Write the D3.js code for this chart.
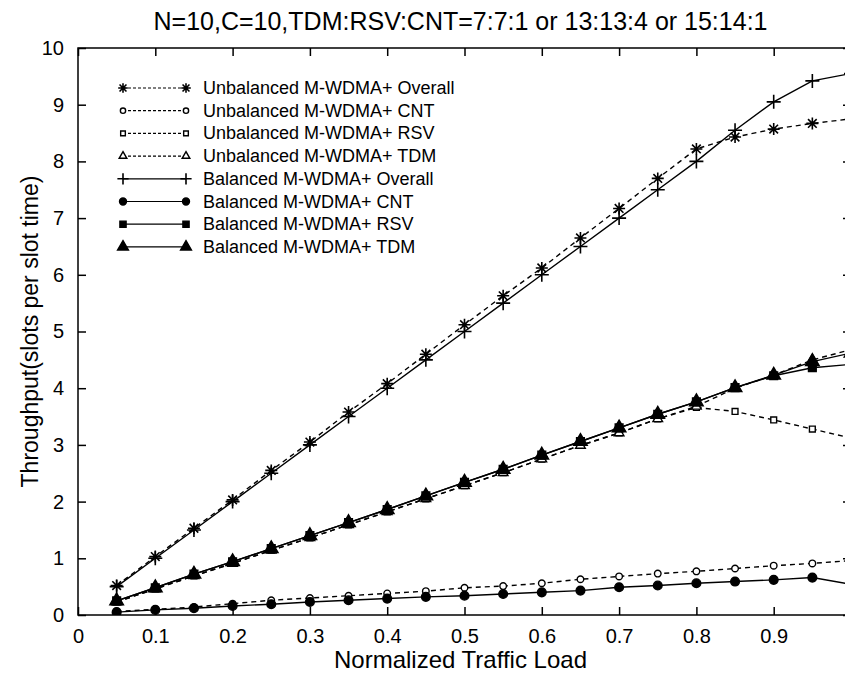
<!DOCTYPE html>
<html>
<head>
<meta charset="utf-8">
<script src="https://cdn.jsdelivr.net/npm/d3@7"></script>
<style>
  body { margin: 0; background: #fff; }
  text { font-family: "Liberation Sans", Arial, sans-serif; fill: #000; }
</style>
</head>
<body>
<svg id="chart" width="845" height="675"></svg>
<script>
// traffic load (x) values
var load = [0.05, 0.1, 0.15, 0.2, 0.25, 0.3, 0.35, 0.4, 0.45, 0.5,
            0.55, 0.6, 0.65, 0.7, 0.75, 0.8, 0.85, 0.9, 0.95, 1.0];

var unbOverall = [0.52, 1.03, 1.53, 2.03, 2.55, 3.05, 3.58, 4.08, 4.6, 5.12,
                  5.63, 6.12, 6.65, 7.17, 7.7, 8.22, 8.43, 8.57, 8.67, 8.75];
var unbCnt = [0.06, 0.1, 0.14, 0.2, 0.26, 0.3, 0.34, 0.38, 0.42, 0.48,
              0.51, 0.56, 0.63, 0.68, 0.73, 0.77, 0.82, 0.87, 0.91, 0.96];
var unbRsv = [0.23, 0.46, 0.69, 0.91, 1.14, 1.36, 1.59, 1.82, 2.05, 2.28,
              2.51, 2.75, 2.99, 3.21, 3.46, 3.66, 3.59, 3.44, 3.28, 3.12];
var unbTdm = [0.23, 0.46, 0.69, 0.91, 1.14, 1.36, 1.59, 1.82, 2.05, 2.28,
              2.51, 2.75, 2.99, 3.21, 3.46, 3.68, 4.0, 4.23, 4.5, 4.68];
var balOverall = [0.5, 1.0, 1.5, 2.0, 2.5, 3.0, 3.5, 4.0, 4.5, 5.0,
                  5.5, 6.0, 6.5, 7.0, 7.5, 8.0, 8.55, 9.05, 9.42, 9.55];
var balCnt = [0.05, 0.09, 0.12, 0.16, 0.19, 0.23, 0.26, 0.29, 0.32, 0.34,
              0.37, 0.4, 0.43, 0.49, 0.52, 0.56, 0.59, 0.62, 0.66, 0.54];
var balRsv = [0.25, 0.48, 0.72, 0.94, 1.17, 1.4, 1.63, 1.86, 2.1, 2.34,
              2.57, 2.82, 3.06, 3.3, 3.54, 3.76, 4.01, 4.22, 4.36, 4.42];
var balTdm = [0.25, 0.48, 0.72, 0.94, 1.17, 1.4, 1.63, 1.86, 2.1, 2.34,
              2.57, 2.82, 3.06, 3.3, 3.54, 3.76, 4.01, 4.23, 4.47, 4.62];

var xTicks = [0, 0.1, 0.2, 0.3, 0.4, 0.5, 0.6, 0.7, 0.8, 0.9, 1];
var xTickLabels = ["0", "0.1", "0.2", "0.3", "0.4", "0.5", "0.6", "0.7", "0.8", "0.9", "1"];
var yTicks = [0, 1, 2, 3, 4, 5, 6, 7, 8, 9, 10];
var yTickLabels = ["0", "1", "2", "3", "4", "5", "6", "7", "8", "9", "10"];

var seriesNames = ["Unbalanced M-WDMA+ Overall", "Unbalanced M-WDMA+ CNT",
                   "Unbalanced M-WDMA+ RSV", "Unbalanced M-WDMA+ TDM",
                   "Balanced M-WDMA+ Overall", "Balanced M-WDMA+ CNT",
                   "Balanced M-WDMA+ RSV", "Balanced M-WDMA+ TDM"];

var TITLE = "N=10,C=10,TDM:RSV:CNT=7:7:1 or 13:13:4 or 15:14:1";
var XLABEL = "Normalized Traffic Load";
var YLABEL = "Throughput(slots per slot time)";

var LEFT = 78, RIGHT = 851, TOP = 48, BOTTOM = 615;
var TICK = 8;

var series = [
    {name: seriesNames[0], values: unbOverall, dashed: true, marker: "star"},
    {name: seriesNames[1], values: unbCnt, dashed: true, marker: "circleOpen"},
    {name: seriesNames[2], values: unbRsv, dashed: true, marker: "squareOpen"},
    {name: seriesNames[3], values: unbTdm, dashed: true, marker: "triOpen"},
    {name: seriesNames[4], values: balOverall, dashed: false, marker: "plus"},
    {name: seriesNames[5], values: balCnt, dashed: false, marker: "circleFill"},
    {name: seriesNames[6], values: balRsv, dashed: false, marker: "squareFill"},
    {name: seriesNames[7], values: balTdm, dashed: false, marker: "triFill"}
];

var svg = d3.select("#chart");
svg.append("rect").attr("width", 845).attr("height", 675).attr("fill", "#fff");

var x = d3.scaleLinear().domain([0, 1]).range([LEFT, RIGHT]);
var y = d3.scaleLinear().domain([0, 10]).range([BOTTOM, TOP]);

// draw a marker of the given kind at (0,0) inside group g
function drawMarker(g, kind, big) {
    var s = big ? 1 : 0.8;
    if (kind === "star") {
        var r = 6 * s, d = r * 0.72;
        g.append("path")
            .attr("d", "M" + (-r) + ",0H" + r + "M0," + (-r) + "V" + r +
                  "M" + (-d) + "," + (-d) + "L" + d + "," + d +
                  "M" + (-d) + "," + d + "L" + d + "," + (-d))
            .attr("stroke", "#000").attr("stroke-width", 1.6).attr("fill", "none");
    } else if (kind === "plus") {
        var p = 7 * s;
        g.append("path")
            .attr("d", "M" + (-p) + ",0H" + p + "M0," + (-p) + "V" + p)
            .attr("stroke", "#000").attr("stroke-width", 1.6).attr("fill", "none");
    } else {
        var type = {circleOpen: d3.symbolCircle, circleFill: d3.symbolCircle,
                    squareOpen: d3.symbolSquare, squareFill: d3.symbolSquare,
                    triOpen: d3.symbolTriangle, triFill: d3.symbolTriangle}[kind];
        var filled = /Fill$/.test(kind);
        var size = {circleOpen: 34, circleFill: 60, squareOpen: 34, squareFill: 60,
                    triOpen: 40, triFill: 80}[kind] * s * s;
        g.append("path")
            .attr("d", d3.symbol().type(type).size(size)())
            .attr("fill", filled ? "#000" : "#fff")
            .attr("stroke", "#000").attr("stroke-width", 1.4);
    }
}

var plot = svg.append("g");
plot.append("clipPath").attr("id", "clip")
    .append("rect").attr("x", LEFT).attr("y", TOP)
    .attr("width", RIGHT - LEFT).attr("height", BOTTOM - TOP);

var line = d3.line()
    .x(function (d, i) { return x(load[i]); })
    .y(function (d) { return y(d); });

series.forEach(function (s) {
    var g = plot.append("g").attr("clip-path", "url(#clip)");
    g.append("path")
        .attr("d", line(s.values))
        .attr("fill", "none")
        .attr("stroke", "#000")
        .attr("stroke-width", 1.4)
        .attr("stroke-dasharray", s.dashed ? "5,4" : null);
    s.values.forEach(function (v, i) {
        var m = g.append("g").attr("transform", "translate(" + x(load[i]) + "," + y(v) + ")");
        drawMarker(m, s.marker, true);
    });
});

// frame and axes with inward ticks
svg.append("rect")
    .attr("x", LEFT).attr("y", TOP)
    .attr("width", RIGHT - LEFT).attr("height", BOTTOM - TOP)
    .attr("fill", "none").attr("stroke", "#000").attr("stroke-width", 1.5);

function styleAxis(g) {
    g.select(".domain").remove();
    g.selectAll(".tick line").attr("stroke", "#000").attr("stroke-width", 1.5);
    g.selectAll(".tick text")
        .style("font-family", "'Liberation Sans', Arial, sans-serif")
        .style("font-size", "20px").attr("fill", "#000");
}

svg.append("g")
    .attr("transform", "translate(0," + BOTTOM + ")")
    .call(d3.axisBottom(x).tickValues(xTicks).tickSize(-TICK).tickPadding(14)
        .tickFormat(function (d, i) { return xTickLabels[i]; }))
    .call(styleAxis);
svg.append("g")
    .attr("transform", "translate(0," + TOP + ")")
    .call(d3.axisTop(x).tickValues(xTicks).tickSize(-TICK).tickFormat(""))
    .call(styleAxis);
svg.append("g")
    .attr("transform", "translate(" + LEFT + ",0)")
    .call(d3.axisLeft(y).tickValues(yTicks).tickSize(-TICK).tickPadding(14)
        .tickFormat(function (d, i) { return yTickLabels[i]; }))
    .call(styleAxis);
svg.append("g")
    .attr("transform", "translate(" + RIGHT + ",0)")
    .call(d3.axisRight(y).tickValues(yTicks).tickSize(-TICK).tickFormat(""))
    .call(styleAxis);

// titles
svg.append("text")
    .attr("x", (LEFT + RIGHT) / 2 - 4).attr("y", 30)
    .attr("text-anchor", "middle").style("font-size", "25px")
    .text(TITLE);
svg.append("text")
    .attr("x", (LEFT + RIGHT) / 2 - 4).attr("y", 668)
    .attr("text-anchor", "middle").style("font-size", "24px")
    .text(XLABEL);
svg.append("text")
    .attr("transform", "translate(38," + ((TOP + BOTTOM) / 2) + ") rotate(-90)")
    .attr("text-anchor", "middle").style("font-size", "23px")
    .text(YLABEL);

// legend
var legend = svg.append("g").attr("transform", "translate(123,88)");
series.forEach(function (s, i) {
    var row = legend.append("g").attr("transform", "translate(0," + (i * 22.7) + ")");
    row.append("line")
        .attr("x1", 0).attr("x2", 63).attr("y1", 0).attr("y2", 0)
        .attr("stroke", "#000").attr("stroke-width", 1.2)
        .attr("stroke-dasharray", s.dashed ? "3,2" : null);
    drawMarker(row.append("g"), s.marker, false);
    drawMarker(row.append("g").attr("transform", "translate(63,0)"), s.marker, false);
    row.append("text")
        .attr("x", 80).attr("y", 6)
        .style("font-size", "18px")
        .text(s.name);
});
</script>
</body>
</html>
